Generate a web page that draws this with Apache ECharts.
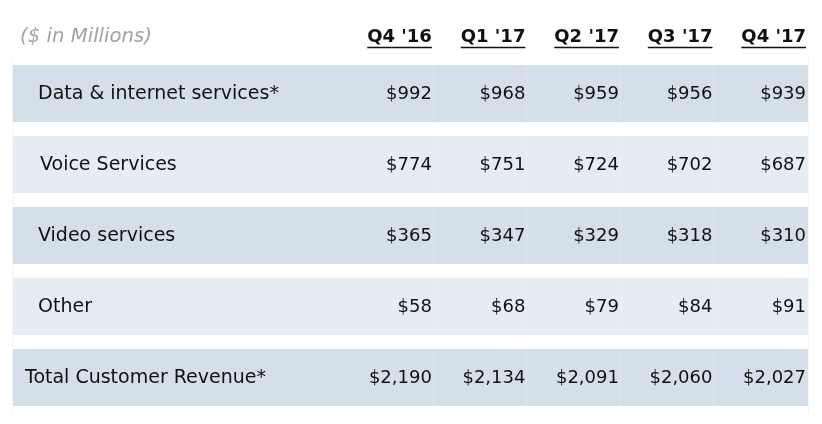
<!DOCTYPE html>
<html>
<head>
<meta charset="utf-8">
<script src="https://cdn.jsdelivr.net/npm/echarts@6/dist/echarts.min.js"></script>
<style>
html,body{margin:0;padding:0;background:#fff;}
#chart{width:822px;height:424px;}
</style>
</head>
<body>
<div id="chart"></div>
<script>
// ---- data ----
const unitLabel = "($ in Millions)";
const columns = ["Q4 '16", "Q1 '17", "Q2 '17", "Q3 '17", "Q4 '17"];
const rowLabels = ["Data & internet services*", "Voice Services", "Video services", "Other", "Total Customer Revenue*"];
const dataInternet = [992, 968, 959, 956, 939];
const voiceServices = [774, 751, 724, 702, 687];
const videoServices = [365, 347, 329, 318, 310];
const otherRevenue = [58, 68, 79, 84, 91];
const totalRevenue = [2190, 2134, 2091, 2060, 2027];

const rowValues = [dataInternet, voiceServices, videoServices, otherRevenue, totalRevenue];

// ---- styles ----
const FONT = '"DejaVu Sans", Verdana, sans-serif';
const textColor = '#111111';
const darkRow = '#d4dfe9';
const lightRow = '#e5ecf4';
const ROW_H = 57;

const measureCtx = document.createElement('canvas').getContext('2d');
function textWidth(t, font) { measureCtx.font = font; return measureCtx.measureText(t).width; }
function money(v) { return '$' + v.toLocaleString('en-US'); }

// build series data from arrays
const rowData = rowLabels.map((l, i) => [-3.5, i]);
const cellData = [];
rowValues.forEach((vals, r) => vals.forEach((v, c) => cellData.push([c + 1, r, v])));
const headerData = columns.map((c, i) => [i + 1, 0, i]);

const chart = echarts.init(document.getElementById('chart'), null, {renderer: 'canvas'});

chart.setOption({
  animation: false,
  backgroundColor: '#ffffff',
  grid: {left: 13, right: 14, top: 58, bottom: 11},
  xAxis: {type: 'value', min: -3.5, max: 5, show: false},
  yAxis: {type: 'category', data: rowLabels, inverse: true, show: false},
  series: [
    { // row backgrounds + faint column separators
      type: 'custom',
      data: rowData,
      renderItem: function (params, api) {
        const cs = params.coordSys;
        const r = api.value(1);
        const cy = api.coord([0, r])[1];
        const top = cy - ROW_H / 2;
        const children = [{
          type: 'rect',
          shape: {x: cs.x, y: top, width: cs.width, height: ROW_H},
          style: {fill: r % 2 === 0 ? darkRow : lightRow}
        }];
        for (let k = 1; k <= 4; k++) {
          const sx = Math.round(api.coord([k, r])[0]) - 0.5;
          children.push({
            type: 'line',
            shape: {x1: sx, y1: top, x2: sx, y2: top + ROW_H},
            style: {stroke: 'rgba(255,255,255,0.22)', lineWidth: 1}
          });
        }
        return {type: 'group', children: children};
      }
    },
    { // faint frame lines on left/right edges
      type: 'custom',
      data: [[-3.5, 0]],
      renderItem: function (params, api) {
        const cs = params.coordSys;
        return {type: 'group', children: [
          {type: 'line', shape: {x1: cs.x - 0.5, y1: cs.y, x2: cs.x - 0.5, y2: cs.y + cs.height}, style: {stroke: '#f1f3f5', lineWidth: 1}},
          {type: 'line', shape: {x1: cs.x + cs.width + 0.5, y1: cs.y, x2: cs.x + cs.width + 0.5, y2: cs.y + cs.height}, style: {stroke: '#f1f3f5', lineWidth: 1}}
        ]};
      }
    },
    { // row labels
      type: 'custom',
      data: rowData,
      renderItem: function (params, api) {
        const r = api.value(1);
        const p = api.coord([api.value(0), r]);
        const indent = r === rowLabels.length - 1 ? 12 : (r === 1 ? 27 : 25);
        return {
          type: 'text',
          style: {
            text: rowLabels[r], x: p[0] + indent, y: p[1] + 1,
            align: 'left', verticalAlign: 'middle',
            font: '19px ' + FONT, fill: textColor
          }
        };
      }
    },
    { // values
      type: 'custom',
      data: cellData,
      renderItem: function (params, api) {
        const p = api.coord([api.value(0), api.value(1)]);
        return {
          type: 'text',
          style: {
            text: money(api.value(2)), x: p[0] - 2, y: p[1] + 1,
            align: 'right', verticalAlign: 'middle',
            font: '18px ' + FONT, fill: textColor
          }
        };
      }
    },
    { // column headers with underline
      type: 'custom',
      data: headerData,
      renderItem: function (params, api) {
        const cs = params.coordSys;
        const x = api.coord([api.value(0), 0])[0] - 2;
        const y = cs.y - 21;
        const label = columns[api.value(2)];
        const font = 'bold 18px ' + FONT;
        const w = textWidth(label, font);
        return {type: 'group', children: [
          {type: 'text', style: {text: label, x: x, y: y, align: 'right', verticalAlign: 'middle', font: font, fill: textColor}},
          {type: 'line', shape: {x1: x - w, y1: y + 10.5, x2: x, y2: y + 10.5}, style: {stroke: textColor, lineWidth: 1.5}}
        ]};
      }
    },
    { // unit label
      type: 'custom',
      data: [[-3.5, 0]],
      renderItem: function (params, api) {
        const cs = params.coordSys;
        return {
          type: 'text',
          style: {
            text: unitLabel, x: cs.x + 7, y: cs.y - 21,
            align: 'left', verticalAlign: 'middle',
            font: 'italic 19.7px ' + FONT, fill: '#a3a3a3'
          }
        };
      }
    }
  ]
});
</script>
</body>
</html>
